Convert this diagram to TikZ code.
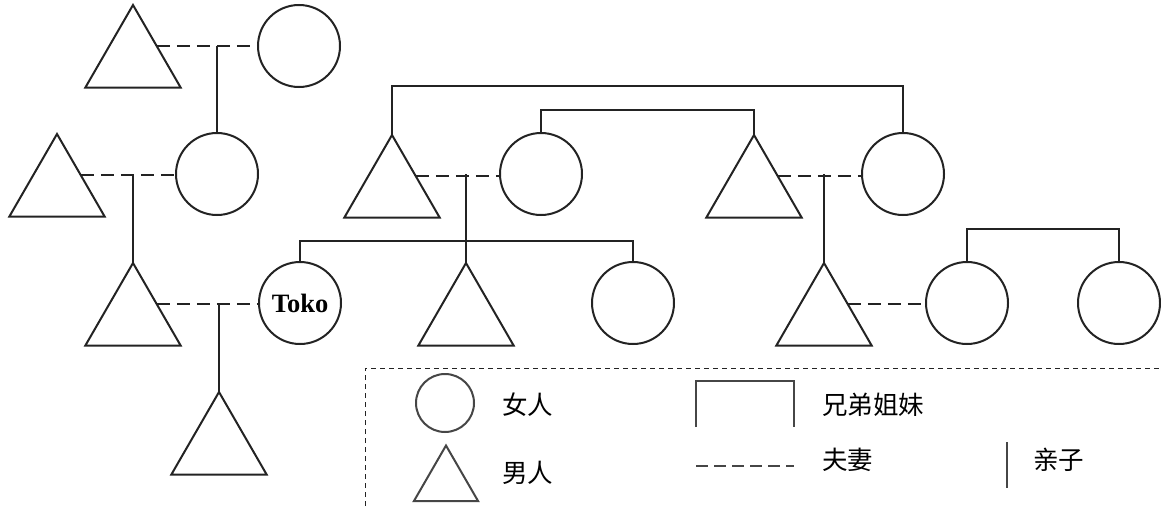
\documentclass[tikz,border=0pt]{standalone}
\usepackage{fontspec}
\setmainfont{Liberation Serif}
\newfontfamily\cjk{Noto Sans CJK SC}
\usetikzlibrary{shapes.geometric}
\definecolor{inkc}{RGB}{35,35,35}
\definecolor{legc}{RGB}{70,70,70}
\begin{document}
\begin{tikzpicture}[x=1pt,y=-1pt,
  ink/.style={draw=inkc, line width=2pt},
  fem/.style={circle, ink, minimum size=82pt, inner sep=0pt, outer sep=0pt},
  male/.style={regular polygon, regular polygon sides=3, ink, minimum size=110pt, inner sep=0pt, outer sep=0pt},
  marriage/.style={ink, dash pattern=on 13pt off 7pt},
  kin/.style={ink},
  legline/.style={draw=legc, line width=2pt},
  legbox/.style={draw=inkc, line width=0.9pt, dash pattern=on 5pt off 4pt},
  lbl/.style={anchor=base west, inner sep=0pt, font=\cjk\fontsize{25.5}{30}\selectfont}]
\useasboundingbox (0,0) rectangle (1161,506);

% people
\node[male] (A) at (133,60) {};
\node[fem]  (B) at (299,46) {};
\node[male] (D) at (57,189) {};
\node[fem]  (C) at (217,174) {};
\node[male] (E) at (133,318) {};
\node[fem, font=\bfseries\fontsize{26.5}{30}\selectfont] (T) at (300,303) {Toko};
\node[male] (F) at (219,447) {};
\node[male] (G) at (392,190) {};
\node[fem]  (H) at (541,174) {};
\node[male] (I) at (754,190) {};
\node[fem]  (J) at (903,174) {};
\node[male] (K) at (466,318) {};
\node[fem]  (L) at (633,303) {};
\node[male] (M) at (824,318) {};
\node[fem]  (N) at (967,303) {};
\node[fem]  (O) at (1119,303) {};

% marriages
\draw[marriage] (A.side 3) -- (A.side 3 -| B.west);
\draw[marriage] (D.side 3) -- (D.side 3 -| C.west);
\draw[marriage] (E.side 3) -- (E.side 3 -| T.west);
\draw[marriage] (G.side 3) -- (G.side 3 -| H.west);
\draw[marriage] (I.side 3) -- (I.side 3 -| J.west);
\draw[marriage] (M.side 3) -- (M.side 3 -| N.west);

% parent-child
\draw[kin] (C.north) -- (C.north |- B.west);
\draw[kin] (E.north) -- (E.north |- C.west);
\draw[kin] (F.north) -- (F.north |- T.west);
\draw[kin] (K.north) -- (K.north |- H.west);
\draw[kin] (M.north) -- (M.north |- J.west);

% siblings
\draw[kin] (G.north) -- ++(0,-49) -| (J.north);
\draw[kin] (H.north) -- ++(0,-23) -| (I.north);
\draw[kin] (T.north) -- ++(0,-21) -| (L.north);
\draw[kin] (N.north) -- ++(0,-33) -| (O.north);

% legend
\draw[legbox] (365,506) -- (365,368) -- (1161,368);
\node[fem, draw=legc, minimum size=58pt] (lf) at (445,403) {};
\node[male, draw=legc, minimum size=74pt] (lm) at (446,482.5) {};
\node[lbl] (t1) at (502,414.5) {女人};
\node[lbl] (t2) at (502,482.5) {男人};
\coordinate (s1) at (696,427);
\coordinate (s2) at (794,427);
\draw[legline] (s1) -- ++(0,-46) -| (s2);
\node[lbl] (t3) at (822,414.5) {兄弟姐妹};
\coordinate (d1) at (696,466);
\coordinate (d2) at (794,466);
\draw[legline, dash pattern=on 12pt off 6pt] (d1) -- (d2);
\node[lbl] (t4) at (822,469.5) {夫妻};
\coordinate (v1) at (1007,442);
\coordinate (v2) at (1007,488);
\draw[legline] (v1) -- (v2);
\node[lbl] (t5) at (1033,469.5) {亲子};
\end{tikzpicture}
\end{document}
